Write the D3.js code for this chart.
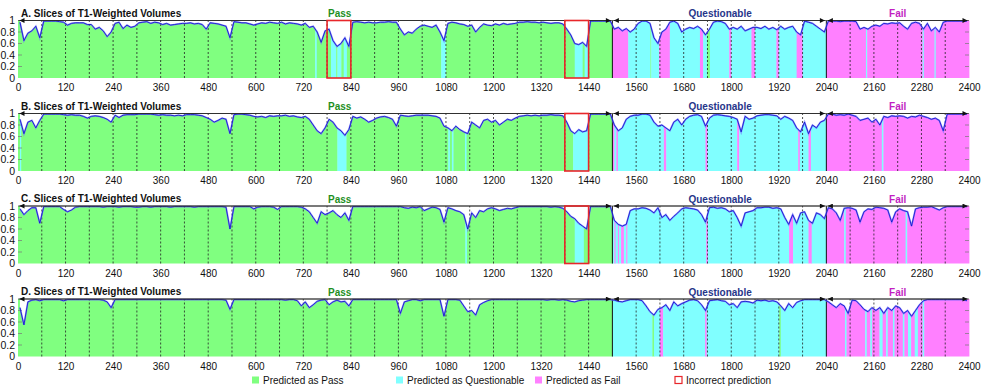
<!DOCTYPE html>
<html>
<head>
<meta charset="utf-8">
<script src="https://cdn.jsdelivr.net/npm/d3@7"></script>
<style>
  body { margin: 0; background: #fff; }
  svg text { font-family: "Liberation Sans", Arial, sans-serif; }
</style>
</head>
<body>
<div id="vis"></div>
<script>
// ---- data ----
const binSize = 10;          // one value per 10 slices (6 per volume)
const sliceMax = 2400;
const volumeSize = 60;
const xTicks = d3.range(0, 2401, 120);
const yTicks = [0, 20, 40, 60, 80, 100];

const groups = [
  { name: 'Pass', start: 0, end: 1500 },
  { name: 'Questionable', start: 1500, end: 2040 },
  { name: 'Fail', start: 2040, end: 2400 }
];
const panelTitles = ['A. Slices of T1-Weighted Volumes', 'B. Slices of T1-Weighted Volumes',
                     'C. Slices of T1-Weighted Volumes', 'D. Slices of T1-Weighted Volumes'];
const legendItems = [
  { cls: 'P', label: 'Predicted as Pass' },
  { cls: 'Q', label: 'Predicted as Questionable' },
  { cls: 'F', label: 'Predicted as Fail' },
  { cls: 'E', label: 'Incorrect prediction' }
];

// probability (%) per 10-slice bin, one row = 2 volumes
const probA = [
  97,65,78,82,90,70, 99,99,99,99,98,97,
  92,95,96,96,96,93, 93,85,88,82,72,80,
  95,97,86,92,88,90, 96,97,98,95,97,96,
  93,95,92,93,94,95, 95,96,94,95,93,85,
  96,95,94,92,90,70, 98,97,96,96,94,92,
  94,96,95,97,96,95, 97,94,96,95,94,92,
  95,88,90,80,62,82, 85,65,55,60,70,55,
  97,98,97,96,97,96, 96,97,97,98,97,97,
  85,75,80,78,85,90, 92,90,88,92,80,65,
  95,97,96,94,93,90, 92,80,88,94,92,91,
  94,92,95,93,94,95, 97,97,98,97,97,96,
  97,96,95,96,96,94, 85,75,60,58,62,55,
  99,99,99,99,99,99, 85,88,82,86,80,85,
  95,99,99,95,70,60, 80,85,97,99,95,80,
  85,88,86,90,85,75, 85,97,99,98,95,85,
  88,85,90,82,85,88, 88,86,90,85,88,84,
  90,85,88,90,80,75, 99,97,95,90,85,80,
  99,99,99,98,99,99, 99,98,85,88,85,90,
  92,90,95,94,96,95, 96,90,85,95,97,95,
  85,95,82,88,80,97, 99,99,99,99,99,99
];
const probB = [
  90,65,85,88,75,88, 99,99,99,99,99,98,
  97,98,97,97,95,92, 95,96,95,93,90,85,
  97,93,97,98,98,98, 99,99,99,99,98,97,
  98,97,97,96,97,96, 98,98,98,97,96,93,
  90,85,88,92,90,65, 98,99,99,98,97,95,
  94,95,93,96,95,96, 96,97,95,96,94,93,
  95,90,80,70,65,75, 90,85,75,70,62,72,
  95,92,94,90,85,88, 92,94,95,93,90,78,
  97,96,95,96,97,97, 97,97,96,95,92,78,
  75,70,78,72,68,65, 85,80,75,88,90,85,
  88,80,85,90,88,92, 95,96,97,96,97,96,
  97,97,98,97,97,96, 85,70,65,72,68,70,
  99,99,99,99,99,99, 80,70,75,90,95,97,
  97,99,99,97,85,78, 80,75,70,85,90,80,
  90,95,97,98,95,78, 92,97,98,97,96,95,
  93,90,68,95,90,92, 96,97,98,98,97,96,
  90,95,92,88,75,68, 85,65,80,75,85,88,
  99,99,97,98,97,99, 97,95,88,90,92,85,
  90,80,95,93,96,95, 96,95,92,95,94,97,
  95,93,90,92,88,70, 99,99,99,99,99,99
];
const probC = [
  95,85,92,97,97,70, 99,99,99,99,99,94,
  90,93,98,99,99,99, 99,99,99,98,99,99,
  99,98,99,99,99,98, 98,99,99,98,99,99,
  99,99,98,99,99,99, 99,99,98,99,99,99,
  99,99,99,99,98,60, 99,99,99,99,99,95,
  98,99,99,99,98,94, 99,99,99,99,99,98,
  95,90,80,70,90,85, 88,92,85,80,88,75,
  99,99,99,99,99,99, 99,99,99,99,99,99,
  99,97,96,98,97,99, 92,95,98,97,94,72,
  97,95,92,90,85,60, 88,80,92,90,95,97,
  95,92,94,96,95,97, 99,99,99,99,99,99,
  99,99,98,99,98,96, 90,82,78,70,65,60,
  99,99,99,99,99,99, 75,68,65,68,92,95,
  95,97,96,93,88,97, 80,85,75,82,88,95,
  97,96,95,93,85,72, 97,98,96,97,95,90,
  92,80,65,88,90,92, 97,97,98,98,96,97,
  95,80,68,85,70,88, 90,75,70,88,85,78,
  97,95,88,75,96,97, 96,93,72,90,95,94,
  98,97,96,93,72,90, 95,92,90,65,95,97,
  98,98,99,96,93,97, 99,99,99,99,99,99
];
const probD = [
  85,55,95,98,99,97, 99,99,99,99,99,97,
  99,99,99,99,99,99, 99,99,99,98,95,85,
  99,99,99,99,99,99, 99,99,99,99,99,99,
  99,99,99,99,99,99, 99,99,99,99,99,99,
  99,99,99,99,98,82, 99,99,99,99,99,99,
  99,99,99,99,99,99, 99,98,99,99,97,88,
  95,85,90,96,98,99, 90,95,98,95,96,88,
  99,99,99,99,99,99, 99,99,99,99,99,99,
  75,95,97,99,99,97, 99,99,99,99,99,70,
  99,99,99,98,88,78, 80,72,90,94,97,99,
  99,99,99,99,99,99, 99,99,99,99,99,99,
  99,98,99,99,98,99, 98,96,95,97,98,99,
  99,99,99,99,99,99, 98,96,95,97,99,99,
  99,97,88,78,72,82, 85,90,80,95,88,92,
  95,98,99,97,90,80, 97,98,99,97,96,90,
  92,85,95,96,95,93, 98,97,98,96,97,95,
  88,80,92,85,94,97, 99,99,99,99,99,99,
  95,90,85,92,88,75, 98,97,90,82,78,85,
  80,85,75,85,80,88, 85,75,80,70,80,90,
  97,99,99,99,99,99, 99,99,99,99,99,97
];

// predicted class per slice range: [start, end, class]
const runsA = [
  [0,750,'P'],[750,754,'Q'],[754,790,'P'],[790,803,'Q'],[803,806,'P'],[806,816,'Q'],[816,822,'P'],
  [822,830,'Q'],[830,1068,'P'],[1068,1080,'Q'],[1080,1405,'P'],[1405,1425,'Q'],[1425,1430,'P'],
  [1430,1440,'Q'],[1440,1500,'P'],[1500,1540,'F'],[1540,1596,'Q'],[1596,1598,'P'],[1598,1618,'Q'],
  [1618,1645,'F'],[1645,1721,'Q'],[1721,1729,'F'],[1729,1739,'Q'],[1739,1746,'P'],[1746,1795,'Q'],
  [1795,1800,'F'],[1800,1851,'Q'],[1851,1860,'F'],[1860,1914,'Q'],[1914,1920,'F'],[1920,1965,'Q'],
  [1965,1980,'F'],[1980,2040,'Q'],[2040,2140,'F'],[2140,2143,'Q'],[2143,2283,'F'],[2283,2286,'Q'],
  [2286,2313,'F'],[2313,2316,'Q'],[2316,2400,'F']
];
const runsB = [
  [0,5,'P'],[5,8,'Q'],[8,806,'P'],[806,829,'Q'],[829,1086,'P'],[1086,1090,'Q'],[1090,1095,'P'],
  [1095,1099,'Q'],[1099,1128,'P'],[1128,1132,'Q'],[1132,1401,'P'],[1401,1440,'Q'],[1440,1500,'P'],
  [1500,1505,'F'],[1505,1510,'Q'],[1510,1514,'F'],[1514,1630,'Q'],[1630,1636,'F'],[1636,1735,'Q'],
  [1735,1740,'F'],[1740,1815,'Q'],[1815,1820,'F'],[1820,1969,'Q'],[1969,1973,'F'],[1973,1995,'Q'],
  [1995,2001,'F'],[2001,2040,'Q'],[2040,2180,'F'],[2180,2184,'Q'],[2184,2400,'F']
];
const runsC = [
  [0,1129,'P'],[1129,1133,'Q'],[1133,1405,'P'],[1405,1428,'Q'],[1428,1500,'P'],[1500,1505,'Q'],
  [1505,1508,'F'],[1508,1514,'Q'],[1514,1517,'F'],[1517,1522,'Q'],[1522,1529,'F'],[1529,1535,'Q'],
  [1535,1538,'F'],[1538,1737,'Q'],[1737,1741,'F'],[1741,1946,'Q'],[1946,1956,'F'],[1956,1995,'Q'],
  [1995,2003,'F'],[2003,2040,'Q'],[2040,2085,'F'],[2085,2089,'Q'],[2089,2240,'F'],[2240,2244,'Q'],
  [2244,2400,'F']
];
const runsD = [
  [0,1500,'P'],[1500,1601,'Q'],[1601,1605,'P'],[1605,1620,'Q'],[1620,1628,'F'],[1628,1734,'Q'],
  [1734,1738,'F'],[1738,1921,'Q'],[1921,1925,'P'],[1925,2040,'Q'],[2040,2087,'F'],[2087,2091,'Q'],
  [2091,2138,'F'],[2138,2142,'Q'],[2142,2151,'F'],[2151,2155,'Q'],[2155,2174,'F'],[2174,2182,'Q'],
  [2182,2191,'F'],[2191,2195,'Q'],[2195,2208,'F'],[2208,2212,'Q'],[2212,2233,'F'],[2233,2237,'Q'],
  [2237,2246,'F'],[2246,2254,'Q'],[2254,2263,'F'],[2263,2271,'Q'],[2271,2283,'F'],[2283,2287,'Q'],
  [2287,2400,'F']
];

// incorrect predictions (red boxes): [start, end]
const errorsA = [[780, 840], [1380, 1440]];
const errorsB = [[1380, 1440]];
const errorsC = [[1380, 1440]];
const errorsD = [];

const panels = [
  { title: panelTitles[0], prob: probA, runs: runsA, errors: errorsA },
  { title: panelTitles[1], prob: probB, runs: runsB, errors: errorsB },
  { title: panelTitles[2], prob: probC, runs: runsC, errors: errorsC },
  { title: panelTitles[3], prob: probD, runs: runsD, errors: errorsD }
];

// ---- layout / style ----
const width = 981, height = 389;
const panelTop = [20.5, 113.5, 206, 299];
const panelH = 57.5;
const classColor = { P: '#80ff80', Q: '#80ffff', F: '#ff80ff', E: 'none' };
const groupColor = { Pass: '#1f8f1f', Questionable: '#27358a', Fail: '#c21fc2' };
const groupLabelAt = [812, 1772, 2220];
const legendX = [252, 396, 535, 675];

const x = d3.scaleLinear().domain([0, sliceMax]).range([18, 969]);
const y = d3.scaleLinear().domain([0, 100]).range([panelH, 0]);

const svg = d3.select('#vis')
    .append('svg')
    .attr('width', width)
    .attr('height', height);

const defs = svg.append('defs');
defs.append('marker')
    .attr('id', 'arrow')
    .attr('viewBox', '0 0 6 6')
    .attr('refX', 6).attr('refY', 3)
    .attr('markerWidth', 6).attr('markerHeight', 5)
    .attr('markerUnits', 'userSpaceOnUse')
    .attr('orient', 'auto-start-reverse')
    .append('path')
    .attr('d', 'M0,0L6,3L0,6Z')
    .attr('fill', '#111');

const volBounds = d3.range(volumeSize, sliceMax, volumeSize);
const groupBounds = groups.slice(1).map(d => d.start);

panels.forEach((p, i) => {
    const g = svg.append('g').attr('transform', `translate(0,${panelTop[i]})`);

    // coloured class runs
    g.selectAll('.run')
        .data(p.runs)
        .join('rect')
        .attr('class', 'run')
        .attr('x', d => x(d[0]))
        .attr('width', d => x(d[1]) - x(d[0]) + 0.4)
        .attr('y', 0)
        .attr('height', panelH)
        .attr('fill', d => classColor[d[2]]);

    const pts = p.prob.map((v, k) => [k * binSize + binSize / 2, v]);

    // blank out everything above the curve
    g.append('path')
        .datum(pts)
        .attr('fill', '#fff')
        .attr('d', d3.area().x(d => x(d[0])).y0(y(100) - 0.5).y1(d => y(d[1])));

    // inner ticks, both sides
    const innerTicks = yTicks.filter(d => d > 0 && d < 100);
    [[x(0), 4], [x(sliceMax), -4]].forEach(([x0, len]) => {
        g.selectAll(null)
            .data(innerTicks)
            .join('line')
            .attr('x1', x0).attr('x2', x0 + len)
            .attr('y1', d => y(d)).attr('y2', d => y(d))
            .attr('stroke', '#777').attr('stroke-width', 0.7);
    });

    // volume boundaries
    g.selectAll('.vol')
        .data(volBounds.filter(d => !groupBounds.includes(d)))
        .join('line')
        .attr('class', 'vol')
        .attr('x1', d => x(d)).attr('x2', d => x(d))
        .attr('y1', y(0)).attr('y2', y(100))
        .attr('stroke', '#222')
        .attr('stroke-width', 0.8)
        .attr('stroke-dasharray', '2,2');

    g.selectAll('.grp')
        .data(groupBounds)
        .join('line')
        .attr('class', 'grp')
        .attr('x1', d => x(d)).attr('x2', d => x(d))
        .attr('y1', y(0)).attr('y2', y(100))
        .attr('stroke', '#111')
        .attr('stroke-width', 1);

    // probability curve
    const line = d3.line().x(d => x(d[0])).y(d => y(d[1]));
    g.append('path')
        .datum(pts)
        .attr('fill', 'none')
        .attr('stroke', '#7070ff')
        .attr('stroke-width', 1.8)
        .attr('stroke-opacity', 0.7)
        .attr('d', line);
    g.append('path')
        .datum(pts)
        .attr('fill', 'none')
        .attr('stroke', '#0a0ac8')
        .attr('stroke-width', 0.8)
        .attr('d', line);

    // top line with group arrows
    g.append('line')
        .attr('x1', x(0)).attr('x2', x(sliceMax))
        .attr('y1', y(100)).attr('y2', y(100))
        .attr('stroke', '#444').attr('stroke-width', 0.8);
    g.selectAll('.arrow')
        .data(groups)
        .join('line')
        .attr('class', 'arrow')
        .attr('x1', d => x(d.start) + 1.5).attr('x2', d => x(d.end) - 1.5)
        .attr('y1', y(100)).attr('y2', y(100))
        .attr('stroke', '#222').attr('stroke-width', 0.8)
        .attr('marker-start', 'url(#arrow)')
        .attr('marker-end', 'url(#arrow)');

    // group labels
    g.selectAll('.glabel')
        .data(groups)
        .join('text')
        .attr('class', 'glabel')
        .attr('x', (d, k) => x(groupLabelAt[k]))
        .attr('y', -3.5)
        .attr('text-anchor', 'middle')
        .style('font-size', '10px')
        .style('font-weight', 'bold')
        .style('fill', d => groupColor[d.name])
        .text(d => d.name);

    // red boxes
    g.selectAll('.err')
        .data(p.errors)
        .join('rect')
        .attr('class', 'err')
        .attr('x', d => x(d[0]))
        .attr('width', d => x(d[1]) - x(d[0]))
        .attr('y', 0)
        .attr('height', panelH)
        .attr('fill', 'none')
        .attr('stroke', '#e8262a')
        .attr('stroke-width', 1.6);

    // axes
    const yAxis = g.append('g')
        .attr('transform', `translate(${x(0)},0)`)
        .call(d3.axisLeft(y).tickValues(yTicks).tickSize(0).tickPadding(3)
            .tickFormat(d => d3.format('~g')(d / 100)));
    yAxis.select('.domain').remove();
    yAxis.selectAll('text').style('font-size', '10.5px').style('fill', '#111');

    const xAxis = g.append('g')
        .attr('transform', `translate(0,${panelH})`)
        .call(d3.axisBottom(x).tickValues(xTicks).tickSize(0).tickPadding(6)
            .tickFormat(d3.format('d')));
    xAxis.select('.domain').remove();
    xAxis.selectAll('text').style('font-size', '10px').style('fill', '#111');

    // title
    g.append('text')
        .attr('x', 21)
        .attr('y', -4)
        .style('font-size', '10px')
        .style('font-weight', 'bold')
        .style('fill', '#111')
        .text(p.title);
});

// legend
const legend = svg.append('g').attr('transform', 'translate(0,380)');
legend.selectAll('rect')
    .data(legendItems)
    .join('rect')
    .attr('x', (d, i) => legendX[i])
    .attr('y', -3.5)
    .attr('width', 7)
    .attr('height', 7)
    .attr('fill', d => classColor[d.cls])
    .attr('stroke', d => d.cls === 'E' ? '#e8262a' : 'none')
    .attr('stroke-width', 1.2);
legend.selectAll('text')
    .data(legendItems)
    .join('text')
    .attr('x', (d, i) => legendX[i] + 11)
    .attr('y', 3.5)
    .style('font-size', '10px')
    .style('fill', '#111')
    .text(d => d.label);
</script>
</body>
</html>
